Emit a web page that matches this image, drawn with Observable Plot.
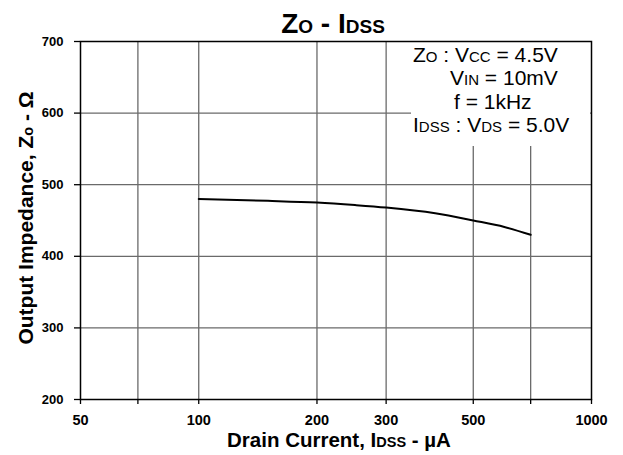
<!DOCTYPE html>
<html>
<head>
<meta charset="utf-8">
<script src="https://cdn.jsdelivr.net/npm/d3@7"></script>
<script src="https://cdn.jsdelivr.net/npm/@observablehq/plot@0.6"></script>
<style>
  html, body { margin: 0; padding: 0; background: #fff; }
  #chart svg { display: block; }
</style>
</head>
<body>
<div id="chart"></div>
<script>
// ---- Data ----
const drainCurrent = [100, 150, 200, 250, 300, 400, 500, 600, 700];      // IDSS, µA
const impedance    = [480, 477.5, 475, 471.5, 468, 460, 450, 441, 430]; // Zo, Ω

const xTicks = [50, 70, 100, 200, 300, 500, 700, 1000];
const yTicks = [200, 300, 400, 500, 600, 700];
const xGrid = [70, 100, 200, 300, 500, 700];
const yGrid = [300, 400, 500, 600];

const conditions = [
  [["Z", ""], ["O", "s"], [" : V", ""], ["CC", "s"], [" = 4.5V", ""]],
  [["V", ""], ["IN", "s"], [" = 10mV", ""]],
  [["f = 1kHz", ""]],
  [["I", ""], ["DSS", "s"], [" : V", ""], ["DS", "s"], [" = 5.0V", ""]]
];
const conditionIndent = [0, 37, 41, 0];

const rows = drainCurrent.map((x, i) => ({x, y: impedance[i]}));

const font = "'Liberation Sans', Arial, Helvetica, sans-serif";

const chart = Plot.plot({
  width: 623,
  height: 455,
  marginLeft: 80,
  marginRight: 32,
  marginTop: 41,
  marginBottom: 56,
  style: {fontFamily: font, fontSize: "12px", fontWeight: "bold", color: "black", background: "white"},
  x: {type: "log", domain: [50, 1000]},
  y: {domain: [200, 700]},
  marks: [
    Plot.gridX(xGrid, {stroke: "#6a6a6a", strokeOpacity: 1, strokeWidth: 1.3}),
    Plot.gridY(yGrid, {stroke: "#6a6a6a", strokeOpacity: 1, strokeWidth: 1.3}),
    Plot.line(rows, {x: "x", y: "y", stroke: "black", strokeWidth: 2, curve: "monotone-x"}),
    Plot.frame({stroke: "black", strokeWidth: 1.5}),
    Plot.axisX({ticks: xTicks, tickFormat: d => String(d), tickSize: 5, tickPadding: 10, label: null, fontWeight: "bold", fontSize: 14.5, strokeWidth: 1.3}),
    Plot.axisY({ticks: yTicks, tickFormat: d => String(d), tickSize: 6, tickPadding: 11, label: null, fontWeight: "bold", fontSize: 13, strokeWidth: 1.3})
  ]
});

const svg = d3.select(chart);
const xs = chart.scale("x"), ys = chart.scale("y");
const pRight = xs.apply(1000);
const pTop = ys.apply(700);

// Conditions box (white, covering grid, below the frame)
const frameNode = chart.querySelector("[aria-label=frame]");
const box = document.createElementNS("http://www.w3.org/2000/svg", "rect");
box.setAttribute("x", 411);
box.setAttribute("y", pTop + 1);
box.setAttribute("width", pRight - 411 - 1);
box.setAttribute("height", 104);
box.setAttribute("fill", "white");
if (frameNode) chart.insertBefore(box, frameNode); else chart.appendChild(box);

const cond = svg.append("g")
  .attr("font-family", font).attr("font-weight", "normal").attr("fill", "black")
  .attr("text-anchor", "start");
conditions.forEach((line, i) => {
  const t = cond.append("text")
    .attr("x", 413 + conditionIndent[i])
    .attr("y", 62 + i * 23.4)
    .attr("font-size", 21);
  line.forEach(([s, k]) => {
    t.append("tspan").attr("font-size", k === "s" ? 15 : 21).text(s);
  });
});

// Title
const title = svg.append("text")
  .attr("x", 333).attr("y", 33)
  .attr("text-anchor", "middle")
  .attr("font-family", font).attr("font-weight", "bold").attr("font-size", 28).attr("fill", "black");
[["Z", 28], ["O", 19], [" - I", 28], ["DSS", 19]].forEach(([s, fs]) => title.append("tspan").attr("font-size", fs).text(s));

// X label
const xl = svg.append("text")
  .attr("x", 339).attr("y", 447)
  .attr("text-anchor", "middle")
  .attr("font-family", font).attr("font-weight", "bold").attr("font-size", 20.5).attr("fill", "black");
[["Drain Current, I", 20.5], ["DSS", 14.5], [" - µA", 20.5]].forEach(([s, fs]) => xl.append("tspan").attr("font-size", fs).text(s));

// Y label
const yl = svg.append("text")
  .attr("transform", "translate(33,218) rotate(-90)")
  .attr("text-anchor", "middle")
  .attr("font-family", font).attr("font-weight", "bold").attr("font-size", 21).attr("fill", "black");
[["Output Impedance, Z", 21], ["o", 14.5], [" - Ω", 21]].forEach(([s, fs]) => yl.append("tspan").attr("font-size", fs).text(s));

document.getElementById("chart").appendChild(chart);
</script>
</body>
</html>
